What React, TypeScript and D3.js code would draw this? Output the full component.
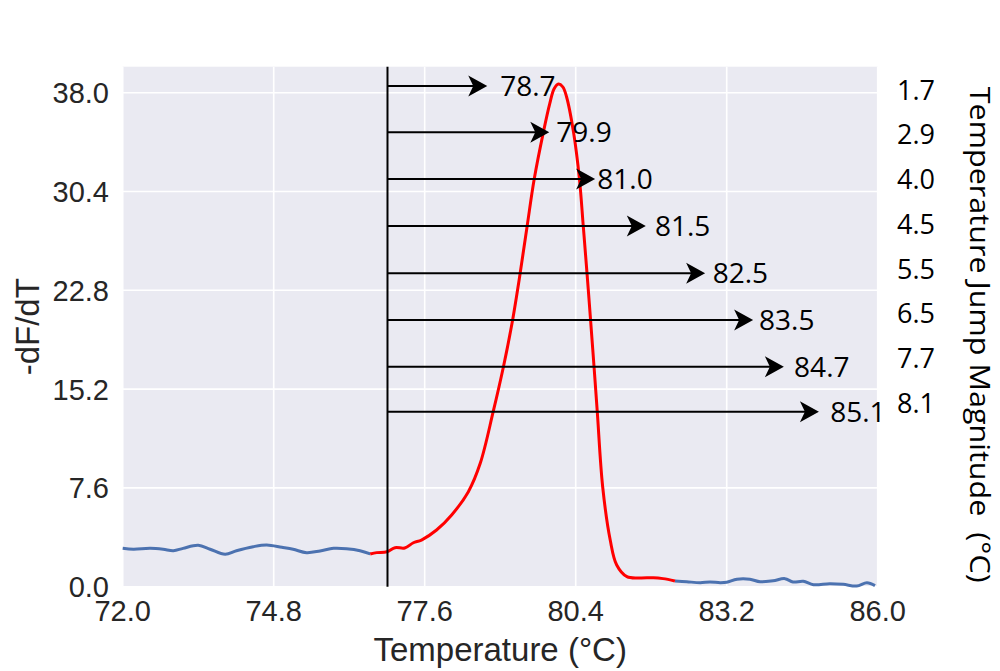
import { useMemo } from 'react'
import * as d3 from 'd3'

// melt curve, [temperature °C, -dF/dT]
const baselineLow: [number, number][] = [
  [72.0, 2.95], [72.2, 2.88], [72.51, 2.95], [72.75, 2.88], [72.94, 2.77],
  [73.12, 2.95], [73.4, 3.18], [73.62, 2.88], [73.9, 2.49], [74.11, 2.77],
  [74.42, 3.08], [74.67, 3.21], [74.95, 3.03], [75.16, 2.88], [75.41, 2.62],
  [75.66, 2.75], [75.91, 2.95], [76.15, 2.92], [76.4, 2.77], [76.59, 2.52]
]

const meltPeak: [number, number][] = [
  [76.59, 2.52], [76.71, 2.62], [76.9, 2.69], [77.05, 3.0], [77.23, 2.98],
  [77.39, 3.38], [77.54, 3.59], [77.82, 4.36], [78.1, 5.52], [78.41, 7.31],
  [78.63, 9.49], [78.87, 13.46], [79.06, 16.92], [79.22, 20.28], [79.37, 24.11],
  [79.5, 27.75], [79.63, 31.34], [79.8, 34.95], [79.92, 37.18], [80.0, 38.3],
  [80.08, 38.67], [80.16, 38.45], [80.23, 37.69], [80.36, 34.95], [80.47, 31.34],
  [80.54, 27.75], [80.61, 24.11], [80.68, 20.28], [80.74, 16.92], [80.8, 13.46],
  [80.9, 7.69], [81.04, 3.59], [81.16, 1.67], [81.35, 0.77], [81.59, 0.67],
  [81.84, 0.69], [82.02, 0.62], [82.24, 0.44]
]

const baselineHigh: [number, number][] = [
  [82.24, 0.44], [82.46, 0.38], [82.71, 0.31], [82.89, 0.36], [83.08, 0.31],
  [83.2, 0.34], [83.39, 0.57], [83.63, 0.57], [83.82, 0.38], [84.06, 0.46],
  [84.28, 0.62], [84.43, 0.36], [84.62, 0.42], [84.81, 0.15], [85.11, 0.23],
  [85.36, 0.18], [85.61, 0.05], [85.8, 0.31], [85.95, 0.08]
]

const startTemp = 76.91
const arrowLevels = [38.52, 34.95, 31.36, 27.75, 24.11, 20.52, 16.92, 13.46]
const arrowTips = [78.76, 79.91, 80.76, 81.7, 82.8, 83.69, 84.26, 84.91]
const labelAt = [79.0, 80.04, 80.8, 81.87, 82.94, 83.8, 84.45, 85.12]
const endLabels = ['78.7', '79.9', '81.0', '81.5', '82.5', '83.5', '84.7', '85.1']
const jumpLabels = ['1.7', '2.9', '4.0', '4.5', '5.5', '6.5', '7.7', '8.1']

const xTicks = [72.0, 74.8, 77.6, 80.4, 83.2, 86.0]
const yTicks = [0.0, 7.6, 15.2, 22.8, 30.4, 38.0]

const W = 1000
const H = 671
const margin = { top: 66.7, right: 122.3, bottom: 84.3, left: 122.7 }

export default function App() {
  const innerW = W - margin.left - margin.right
  const innerH = H - margin.top - margin.bottom

  const x = d3.scaleLinear().domain([72, 86]).range([0, innerW])
  const y = d3.scaleLinear().domain([0, 40]).range([innerH, 0])

  const line = useMemo(
    () =>
      d3
        .line<[number, number]>()
        .x(d => x(d[0]))
        .y(d => y(d[1]))
        .curve(d3.curveCatmullRom.alpha(0.5)),
    []
  )

  // right-hand jump labels sit on their own even spacing
  const jumpY = d3.scalePoint<number>().domain(d3.range(jumpLabels.length)).range([89.7, 403])

  const tickFont = { fontFamily: '"Liberation Sans", Arial, sans-serif', fill: '#262626' }
  const noteFont = { fontFamily: '"Open Sans", sans-serif', fill: '#000' }

  return (
    <svg width={W} height={H} style={{ position: 'absolute', left: 0, top: 0 }}>
      <rect width={W} height={H} fill="#fff" />
      <g transform={`translate(${margin.left},${margin.top})`}>
        <rect width={innerW} height={innerH} fill="#eaeaf2" />
        {xTicks.map(t => (
          <line key={'gx' + t} x1={x(t)} x2={x(t)} y1={0} y2={innerH} stroke="#fff" strokeWidth={1.6} />
        ))}
        {yTicks.map(t => (
          <line key={'gy' + t} x1={0} x2={innerW} y1={y(t)} y2={y(t)} stroke="#fff" strokeWidth={1.6} />
        ))}

        <path d={line(baselineLow) ?? ''} fill="none" stroke="#4c72b0" strokeWidth={3} />
        <path d={line(baselineHigh) ?? ''} fill="none" stroke="#4c72b0" strokeWidth={3} />
        <path d={line(meltPeak) ?? ''} fill="none" stroke="#ff0000" strokeWidth={3} />

        <line x1={x(startTemp)} x2={x(startTemp)} y1={0} y2={innerH} stroke="#000" strokeWidth={2} />

        {arrowLevels.map((lv, i) => {
          const ay = y(lv)
          const tx = x(arrowTips[i])
          return (
            <g key={'a' + i}>
              <line x1={x(startTemp)} x2={tx - 10} y1={ay} y2={ay} stroke="#000" strokeWidth={2} />
              <path
                d={`M${tx},${ay} L${tx - 19},${ay - 10.5} L${tx - 14},${ay} L${tx - 19},${ay + 10.5} Z`}
                fill="#000"
              />
              <text x={x(labelAt[i])} y={ay + 10} fontSize={28} style={noteFont}>
                {endLabels[i]}
              </text>
            </g>
          )
        })}
      </g>

      {xTicks.map(t => (
        <text
          key={'tx' + t}
          x={margin.left + x(t)}
          y={620.5}
          textAnchor="middle"
          fontSize={29}
          style={tickFont}
        >
          {t.toFixed(1)}
        </text>
      ))}
      {yTicks.map(t => (
        <text
          key={'ty' + t}
          x={109}
          y={margin.top + y(t) + 10.4}
          textAnchor="end"
          fontSize={29}
          style={tickFont}
        >
          {t.toFixed(1)}
        </text>
      ))}

      <text x={margin.left + innerW / 2} y={661} textAnchor="middle" fontSize={33} style={tickFont}>
        Temperature (°C)
      </text>
      <text
        transform={`translate(39,${margin.top + innerH / 2}) rotate(-90)`}
        textAnchor="middle"
        fontSize={33}
        style={tickFont}
      >
        -dF/dT
      </text>

      {jumpLabels.map((l, i) => (
        <text key={'j' + i} x={897} y={(jumpY(i) ?? 0) + 10} fontSize={27} style={noteFont}>
          {l}
        </text>
      ))}
      <text
        transform={`translate(970,${margin.top + innerH / 2 + 8}) rotate(90)`}
        textAnchor="middle"
        fontSize={28}
        textLength={496}
        lengthAdjust="spacingAndGlyphs"
        style={noteFont}
      >
        Temperature Jump Magnitude{'\u00a0'} (°C)
      </text>
    </svg>
  )
}
